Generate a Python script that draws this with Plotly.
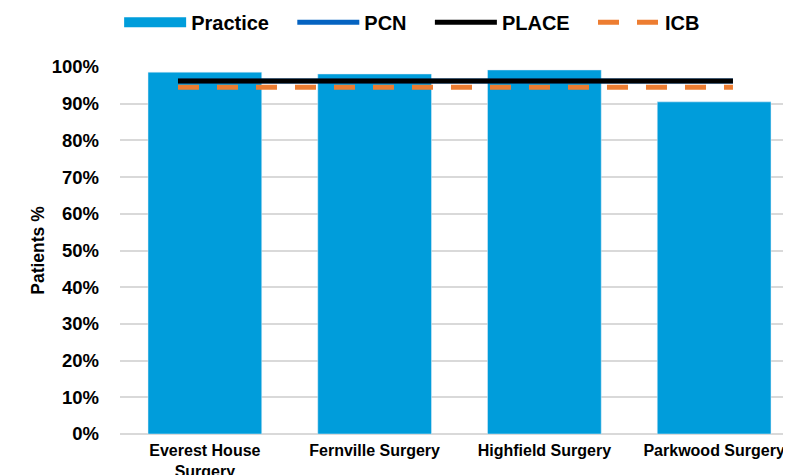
import plotly.graph_objects as go

categories = ["Everest House<br>Surgery", "Fernville Surgery", "Highfield Surgery", "Parkwood Surgery"]
practice = [0.986, 0.981, 0.992, 0.905]
pcn = [0.962, 0.962, 0.962, 0.962]
place = [0.962, 0.962, 0.962, 0.962]
icb = [0.945, 0.945, 0.945, 0.945]
y_ticks = [0, 0.1, 0.2, 0.3, 0.4, 0.5, 0.6, 0.7, 0.8, 0.9, 1.0]

font = "Liberation Sans"
pad = "\u00a0" * 3 + "\u200a"
fig = go.Figure()
fig.add_trace(go.Bar(x=categories, y=practice, name="Practice", marker_color="#009DDB",
                     showlegend=False))
fig.add_trace(go.Scatter(x=[None], y=[None], mode="lines", name="Practice" + pad,
                         line=dict(color="#009DDB", width=14)))
idx = list(range(len(categories)))
fig.add_trace(go.Scatter(x=idx, y=pcn, mode="lines", name="PCN" + pad, xaxis="x2",
                         line=dict(color="#0563C1", width=5)))
fig.add_trace(go.Scatter(x=idx, y=place, mode="lines", name="PLACE" + pad, xaxis="x2",
                         line=dict(color="#000000", width=5)))
fig.add_trace(go.Scatter(x=idx, y=icb, mode="lines", name="ICB", xaxis="x2",
                         line=dict(color="#ED7D31", width=5, dash="21px,18px")))

fig.update_layout(
    width=791, height=475,
    margin=dict(l=112, r=0, t=59, b=49, autoexpand=False),
    plot_bgcolor="white", paper_bgcolor="white",
    bargap=0.33,
    font=dict(family=font, color="#000000"),
    showlegend=True,
    legend=dict(orientation="h", x=0.1405, xanchor="left", xref="container",
                y=0.970, yanchor="middle", yref="container",
                font=dict(size=20, family=font, weight="bold"), itemwidth=62,
                traceorder="normal"),
    xaxis=dict(showgrid=False, ticks="", tickfont=dict(size=16, weight="bold"),
               showline=False, range=[-0.5, 3.5], automargin=False, ticklabelstandoff=5),
    xaxis2=dict(overlaying="x", range=[-0.3135, 3.357], visible=False),
    yaxis=dict(range=[0, 1.0], tickvals=y_ticks, tickformat=".0%", automargin=False,
               tickfont=dict(size=18.5, weight="bold"), gridcolor="#D9D9D9", gridwidth=2,
               zeroline=True, zerolinecolor="#D9D9D9", zerolinewidth=2,
               ticklabelstandoff=20,
               title=dict(text="Patients %", font=dict(size=17.5, weight="bold"), standoff=2)),
)
fig.write_html("out.html")
